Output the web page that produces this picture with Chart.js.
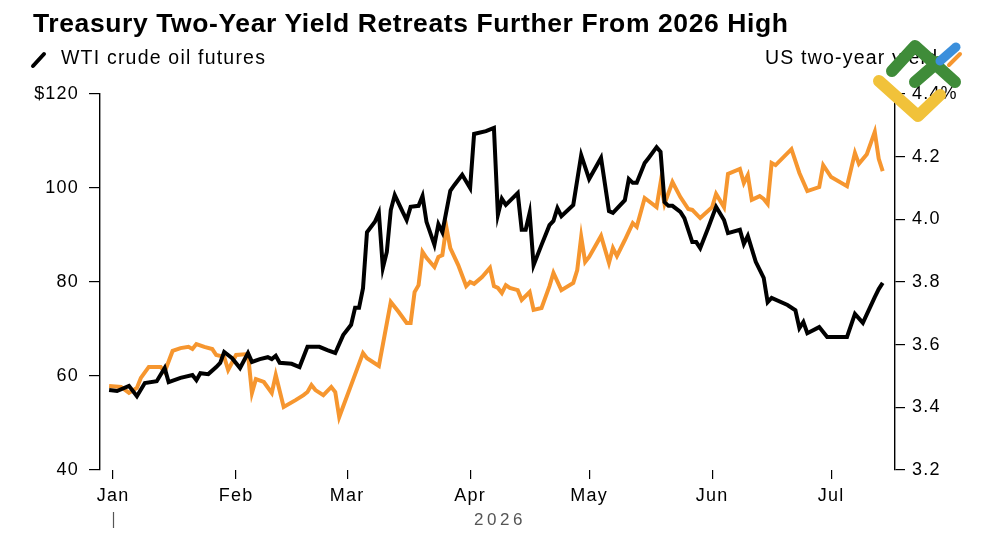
<!DOCTYPE html>
<html>
<head>
<meta charset="utf-8">
<script src="https://cdn.jsdelivr.net/npm/chart.js@4.4.1/dist/chart.umd.min.js"></script>
<style>
html,body{margin:0;padding:0;background:#fff;}
#wrap{position:relative;width:1000px;height:545px;overflow:hidden;font-family:"Liberation Sans",Arial,Helvetica,sans-serif;}
#chart{position:absolute;left:0;top:0;}
.t{position:absolute;white-space:nowrap;color:#000;}
#title{left:33px;top:10px;font-size:26.5px;line-height:26px;font-weight:bold;letter-spacing:0.6px;}
#legL{left:61px;top:48px;font-size:19.5px;line-height:19.5px;letter-spacing:1.2px;}
#legR{left:765px;top:48px;font-size:19.5px;line-height:19.5px;letter-spacing:1.2px;}
#year{left:440px;width:120px;text-align:center;top:511px;font-size:17px;line-height:17px;letter-spacing:3.5px;color:#555;}
#ov{position:absolute;left:0;top:0;pointer-events:none;}
</style>
</head>
<body>
<div id="wrap">
  <canvas id="chart" width="1000" height="545"></canvas>
  <div class="t" id="title">Treasury Two-Year Yield Retreats Further From 2026 High</div>
  <div class="t" id="legL">WTI crude oil futures</div>
  <div class="t" id="legR">US two-year yield</div>
  <div class="t" id="year">2026</div>
  <svg id="ov" width="1000" height="545">
    <line x1="33" y1="66" x2="44" y2="54" stroke="#000" stroke-width="4" stroke-linecap="round"/>
    <line x1="949" y1="65" x2="960" y2="54" stroke="#F6962F" stroke-width="4" stroke-linecap="round"/>
    <g fill="none" stroke-linecap="round" stroke-linejoin="round">
      <polyline points="879,81 918,116 940,95" stroke="#F1C23A" stroke-width="12"/>
      <polyline points="892,71 915,46 955,82" stroke="#3F8C39" stroke-width="12"/>
      <line x1="915" y1="82" x2="938" y2="62" stroke="#3F8C39" stroke-width="12"/>
      <line x1="940" y1="61" x2="956" y2="47" stroke="#3B8FDC" stroke-width="9"/>
    </g>
  </svg>
</div>
<script>
// Days counted from 1 Jan 2026 (day 0)
const monthStarts = [0, 31, 59, 90, 120, 151, 181];
const monthLabels = ['Jan', 'Feb', 'Mar', 'Apr', 'May', 'Jun', 'Jul'];
const yearLabel = '2026';

const oilDays = [-1,1,4,6,8,11,13,14,17,20,21,22,24,26,27,28,30,32,34,35,37,39,40,41,42,45,47,49,52,54,56,58,60,61,62,63,64,66,67,68,69,70,71,73,74,75,77,78,79,81,82,83,85,86,88,90,91,92,94,96,97,98,99,102,103,104,105,106,108,110,111,112,113,116,118,120,123,125,126,129,130,131,132,134,135,137,138,139,140,141,143,144,146,147,148,150,152,154,155,158,159,160,162,164,165,166,170,172,173,174,175,178,180,185,187,189,192,193,194];
const oilPrices = [57.0,56.8,57.9,55.7,58.5,58.9,61.7,58.7,59.6,60.2,59.1,60.6,60.4,61.9,62.8,65.1,63.8,61.7,64.9,63.0,63.6,64.0,63.6,64.3,62.8,62.6,61.9,66.2,66.2,65.5,64.9,68.7,70.9,74.5,74.5,78.7,90.6,92.8,94.7,83.0,86.4,95.3,98.5,94.9,93.2,96.0,96.2,98.3,92.8,87.9,92.3,90.6,99.4,100.6,102.8,100.0,111.5,111.7,112.1,112.8,94.3,97.7,96.4,98.9,91.1,91.1,94.7,83.6,87.9,92.1,93.0,95.7,94.0,96.4,107.0,101.9,106.4,95.1,94.7,97.4,101.9,101.1,101.1,105.3,106.4,108.7,107.7,97.0,96.2,96.2,94.9,93.6,88.5,88.5,87.2,91.5,96.0,93.2,90.4,91.1,88.1,89.8,84.3,80.9,75.7,76.6,75.1,74.0,70.2,71.5,69.1,70.4,68.3,68.3,73.2,71.3,76.8,78.5,79.8];

const yieldDays = [-1,2,4,6,7,9,12,13,15,17,19,20,21,23,25,26,28,29,31,34,35,36,38,40,41,43,46,48,49,50,51,53,55,56,57,60,63,64,67,70,72,74,75,76,77,78,79,81,82,83,84,85,87,89,90,91,93,95,96,97,98,99,100,102,103,105,106,108,110,111,113,116,117,118,119,120,123,125,126,127,129,131,132,134,137,138,139,141,143,145,146,148,151,152,154,155,158,159,160,161,163,164,165,166,167,171,173,175,178,179,181,185,187,188,190,192,193,194];
const yieldValues = [3.468,3.465,3.446,3.462,3.494,3.529,3.529,3.513,3.580,3.589,3.593,3.586,3.602,3.593,3.586,3.567,3.561,3.519,3.567,3.570,3.446,3.490,3.481,3.446,3.503,3.401,3.423,3.439,3.449,3.471,3.455,3.439,3.465,3.449,3.369,3.471,3.573,3.557,3.532,3.736,3.704,3.669,3.669,3.768,3.790,3.896,3.877,3.848,3.880,3.886,3.976,3.908,3.854,3.787,3.800,3.794,3.816,3.845,3.787,3.781,3.765,3.790,3.781,3.774,3.743,3.768,3.711,3.717,3.787,3.829,3.774,3.797,3.838,3.944,3.864,3.880,3.947,3.861,3.908,3.883,3.934,3.988,3.976,4.068,4.039,4.116,4.049,4.119,4.071,4.033,4.030,4.004,4.039,4.081,4.039,4.145,4.161,4.116,4.141,4.062,4.074,4.065,4.049,4.180,4.173,4.224,4.148,4.090,4.103,4.173,4.135,4.106,4.212,4.177,4.208,4.279,4.193,4.154];

document.getElementById('year').textContent = yearLabel;

const FONT = "'Liberation Sans', Arial, Helvetica, sans-serif";
const tickFont = {family: FONT, size: 18};

const spacingPlugin = {
  id: 'spacing',
  beforeLayout(chart) { chart.ctx.letterSpacing = '1.2px'; },
  beforeDraw(chart) { chart.ctx.letterSpacing = '1.2px'; },
  afterDraw(chart) {
    const ctx = chart.ctx;
    const x = Math.round(chart.scales.x.getPixelForValue(monthStarts[0])) + 0.5;
    ctx.save();
    ctx.strokeStyle = '#555';
    ctx.lineWidth = 1.2;
    ctx.beginPath();
    ctx.moveTo(x, 512);
    ctx.lineTo(x, 528);
    ctx.stroke();
    ctx.restore();
  }
};

new Chart(document.getElementById('chart'), {
  type: 'line',
  data: {
    datasets: [
      {
        label: 'WTI crude oil futures',
        data: oilDays.map((d, i) => ({x: d, y: oilPrices[i]})),
        yAxisID: 'y',
        borderColor: '#000000',
        borderWidth: 4,
        pointRadius: 0,
        tension: 0
      },
      {
        label: 'US two-year yield',
        data: yieldDays.map((d, i) => ({x: d, y: yieldValues[i]})),
        yAxisID: 'y1',
        borderColor: '#F6962F',
        borderWidth: 4,
        pointRadius: 0,
        tension: 0
      }
    ]
  },
  options: {
    responsive: false,
    animation: false,
    devicePixelRatio: 1,
    layout: {padding: {top: 94, bottom: 0, left: 0, right: 0}},
    plugins: {legend: {display: false}, tooltip: {enabled: false}, title: {display: false}},
    scales: {
      x: {
        type: 'linear',
        min: -3.3,
        max: 197.1,
        afterBuildTicks: (s) => { s.ticks = monthStarts.map(v => ({value: v})); },
        afterFit: (s) => { s.height = 75; },
        ticks: {
          autoSkip: false, maxRotation: 0, minRotation: 0,
          font: tickFont, color: '#000', padding: 6,
          callback: (v) => monthLabels[monthStarts.indexOf(v)]
        },
        grid: {drawOnChartArea: false, drawTicks: true, tickLength: 9, color: '#000', lineWidth: 1.2},
        border: {display: false}
      },
      y: {
        position: 'left',
        min: 40, max: 120,
        afterFit: (s) => { s.width = 100; },
        ticks: {
          stepSize: 20, font: tickFont, color: '#000', padding: 10,
          callback: (v) => v === 120 ? '$120' : String(v)
        },
        grid: {drawOnChartArea: false, drawTicks: true, tickLength: 11, color: '#000', lineWidth: 1.2},
        border: {display: true, color: '#000', width: 1.4}
      },
      y1: {
        position: 'right',
        min: 3.2, max: 4.4,
        afterFit: (s) => { s.width = 105; },
        ticks: {
          stepSize: 0.2, font: tickFont, color: '#000', padding: 7,
          callback: (v) => Math.abs(v - 4.4) < 1e-6 ? '4.4%' : Number(v).toFixed(1)
        },
        grid: {drawOnChartArea: false, drawTicks: true, tickLength: 10, color: '#000', lineWidth: 1.2},
        border: {display: true, color: '#000', width: 1.4}
      }
    }
  },
  plugins: [spacingPlugin]
});
</script>
</body>
</html>
